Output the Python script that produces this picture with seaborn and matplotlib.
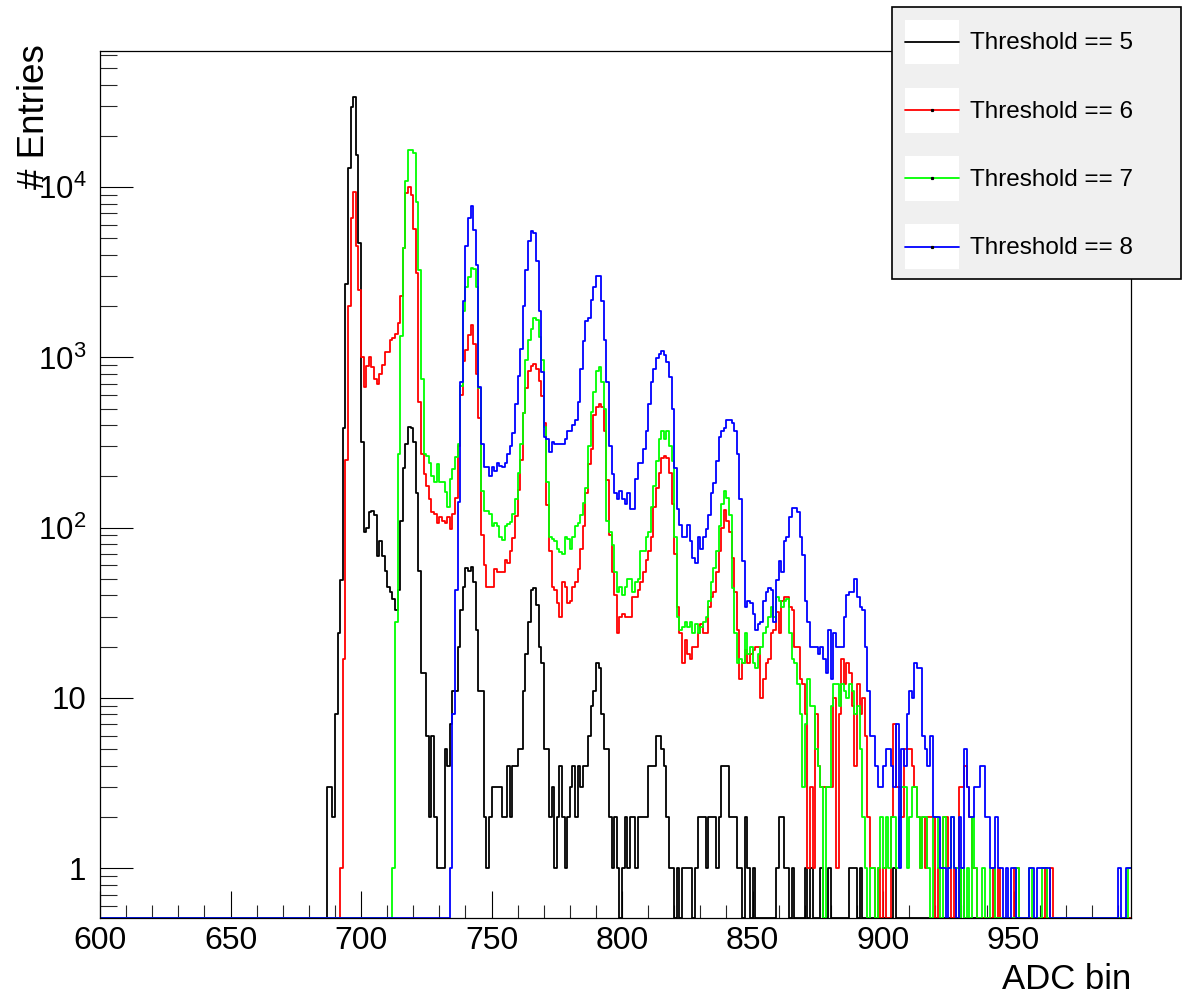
import numpy as np
import pandas as pd
import matplotlib
matplotlib.use("Agg")
import matplotlib.pyplot as plt
import seaborn as sns
from matplotlib.patches import Rectangle
from matplotlib.lines import Line2D
from matplotlib.legend_handler import HandlerBase
from matplotlib.ticker import (FixedLocator, FixedFormatter, LogLocator,
                               MultipleLocator, NullFormatter)

# ---------------- data ----------------
labels = ["Threshold == 5", "Threshold == 6", "Threshold == 7", "Threshold == 8"]
colors = ["#000000", "#ff0000", "#00ff00", "#0000ff"]

x_min, x_max = 600, 995
y_min, y_max = 0.51, 6.3e4

y_tick_values = [1, 10, 100, 1000, 10000]
y_tick_labels = ["1", "10", r"$\mathregular{10^{2}}$", r"$\mathregular{10^{3}}$",
                 r"$\mathregular{10^{4}}$"]

# counts per 1-ADC bin, starting at the given first bin
t5_first_bin = 687
t5_counts = [
    3, 3, 2, 8, 24, 49, 385, 2700, 13000, 29500,          # 687
    34000, 15500, 4700, 320, 94, 100, 123, 125, 118, 68,  # 697
    84, 68, 56, 45, 42, 38, 33, 43, 110, 225,             # 707
    310, 390, 385, 320, 160, 56, 14, 14, 6, 2,            # 717
    6, 2, 1, 1, 1, 5, 4, 7, 11, 11,                       # 727
    20, 33, 45, 58, 56, 59, 48, 25, 11, 11,               # 737
    2, 1, 2, 3, 3, 3, 3, 2, 2, 4,                         # 747
    2, 4, 4, 5, 5, 11, 18, 28, 43, 44,                    # 757
    35, 20, 16, 5, 5, 2, 3, 1, 2, 4,                      # 767
    2, 1, 2, 3, 4, 2, 4, 3, 4, 4,                         # 777
    6, 9, 11, 16, 15, 8, 5, 5, 2, 1,                      # 787
    2, 1, 0, 1, 2, 1, 2, 2, 1, 2,                         # 797
    2, 2, 2, 4, 4, 4, 6, 6, 5, 4,                         # 807
    2, 1, 1, 0, 1, 0, 1, 1, 1, 1,                         # 817
    0, 1, 2, 2, 2, 1, 2, 2, 2, 1,                         # 827
    2, 4, 4, 4, 2, 2, 2, 1, 1, 0,                         # 837
    2, 1, 0, 1, 0, 0, 0, 0, 0, 0,                         # 847
    0, 0, 1, 2, 2, 1, 1, 0, 1, 0,                         # 857
    0, 0, 0, 1, 0, 1, 0, 0, 0, 1,                         # 867
    0, 0, 1, 0, 0, 0, 0, 0, 0, 0,                         # 877
    1, 1, 1, 0, 1, 0, 0, 0, 0, 0,                         # 887
    0, 0, 0, 0, 0, 0, 0, 1, 0, 0,                         # 897
    0, 0, 0, 0, 0, 0, 0, 0, 0, 0,                         # 907
    0, 0, 0, 0, 0, 0, 0, 0, 0, 0,                         # 917
    0, 0, 0, 1,                                           # 927
]

t6_first_bin = 692
t6_counts = [
    1, 17, 250, 2000, 6600, 9400, 4500, 2500, 1000, 670,          # 692
    890, 1000, 880, 750, 700, 800, 900, 1080, 1080, 1260,         # 702
    1300, 1380, 1590, 2300, 4400, 9200, 10000, 9000, 5700, 3150,  # 712
    545, 270, 207, 176, 147, 123, 120, 107, 116, 110,             # 722
    107, 116, 98, 120, 150, 300, 600, 950, 1100, 1350,            # 732
    1540, 1200, 800, 440, 90, 60, 45, 45, 45, 57,                 # 742
    55, 55, 55, 65, 62, 73, 87, 117, 167, 250,                    # 752
    470, 660, 830, 890, 920, 860, 730, 590, 410, 136,             # 762
    73, 45, 43, 36, 30, 48, 45, 36, 37, 45,                       # 772
    48, 57, 75, 102, 160, 235, 290, 460, 510, 530,                # 782
    510, 370, 190, 90, 55, 40, 24, 30, 31, 30,                    # 792
    30, 30, 39, 39, 43, 48, 55, 65, 73, 88,                       # 802
    133, 170, 210, 257, 265, 257, 210, 137, 70, 34,               # 812
    24, 16, 22, 18, 17, 20, 20, 24, 27, 24,                       # 822
    24, 34, 39, 42, 55, 73, 100, 127, 110, 94,                    # 832
    66, 42, 25, 13, 16, 19, 16, 18, 19, 20,                       # 842
    20, 10, 13, 16, 17, 24, 25, 32, 24, 37,                       # 852
    39, 39, 34, 33, 20, 20, 13, 12, 8, 1,                         # 862
    3, 1, 8, 4, 3, 3, 3, 3, 3, 10,                                # 872
    1, 8, 17, 12, 16, 14, 9, 4, 12, 8,                            # 882
    10, 6, 2, 1, 1, 0, 1, 0, 1, 0,                                # 892
    0, 2, 7, 3, 3, 2, 5, 5, 5, 4,                                 # 902
    3, 2, 1, 2, 1, 2, 2, 2, 0, 1,                                 # 912
    1, 2, 2, 1, 0, 1, 0, 3, 3, 4,                                 # 922
    3, 2, 1, 1, 0, 0, 0, 0, 0, 0,                                 # 932
    1, 0, 1, 0, 0, 0, 0, 0, 1, 1,                                 # 942
    0, 0, 0, 0, 0, 0, 0, 0, 0, 0,                                 # 952
    1, 0, 1,                                                      # 962
]

t7_first_bin = 712
t7_counts = [
    1, 28, 270, 1340, 4400, 10800, 16500, 16500, 15900, 8200,     # 712
    3240, 750, 270, 265, 240, 200, 185, 235, 185, 185,            # 722
    162, 132, 193, 220, 260, 310, 680, 1880, 2600, 2950,          # 732
    3370, 3300, 2600, 660, 165, 125, 125, 120, 102, 106,          # 742
    102, 88, 85, 102, 105, 108, 120, 147, 210, 312,               # 752
    470, 965, 1260, 1460, 1700, 1650, 1320, 965, 390, 185,        # 762
    88, 86, 83, 75, 72, 70, 88, 86, 75, 88,                       # 772
    102, 106, 118, 140, 170, 300, 480, 630, 830, 880,             # 782
    715, 500, 110, 94, 79, 55, 42, 45, 40, 45,                    # 792
    50, 50, 42, 48, 50, 73, 73, 88, 94, 133,                      # 802
    176, 246, 330, 370, 330, 370, 300, 246, 88, 30,               # 812
    25, 26, 28, 26, 28, 24, 27, 24, 26, 28,                       # 822
    30, 37, 48, 58, 73, 102, 137, 165, 150, 118,                  # 832
    44, 24, 16, 17, 16, 24, 18, 20, 16, 15,                       # 842
    18, 20, 24, 26, 30, 34, 30, 39, 37, 34,                       # 852
    37, 38, 24, 17, 16, 12, 8, 3, 7, 13,                          # 862
    9, 9, 5, 4, 3, 0, 3, 3, 9, 12,                                # 872
    12, 9, 12, 11, 10, 12, 11, 8, 9, 5,                           # 882
    2, 1, 0, 1, 1, 0, 1, 2, 1, 2,                                 # 892
    1, 2, 2, 1, 2, 3, 3, 1, 2, 3,                                 # 902
    3, 2, 1, 2, 2, 1, 0, 2, 2, 1,                                 # 912
    0, 2, 1, 1, 2, 1, 1, 0, 1, 0,                                 # 922
    1, 0, 2, 1, 0, 0, 1, 0, 0, 1,                                 # 932
    1, 0, 0, 0, 0, 0, 0, 0, 0, 1,                                 # 942
    0, 0, 0, 0, 1, 0, 0, 0, 0, 1,                                 # 952
    1, 0, 0, 0, 0, 0, 0, 0, 0, 0,                                 # 962
    0, 0, 0, 0, 0, 0, 0, 0, 0, 0,                                 # 972
    0, 0, 0, 0, 0, 0, 0, 0, 0, 0,                                 # 982
    0, 0, 1,                                                      # 992
]

t8_first_bin = 734
t8_counts = [
    1, 8, 43, 141, 720, 2130, 4500, 6600, 7700, 5600,             # 734
    3500, 670, 310, 226, 226, 200, 226, 215, 240, 230,            # 744
    226, 240, 270, 300, 360, 534, 780, 1120, 2000, 3240,          # 754
    4800, 5500, 5400, 3660, 1870, 820, 340, 330, 280, 317,        # 764
    310, 310, 310, 310, 330, 370, 370, 400, 430, 550,             # 774
    850, 1250, 1640, 1700, 2180, 2590, 2990, 2990, 2130, 1260,    # 784
    715, 302, 207, 159, 148, 165, 148, 137, 159, 128,             # 794
    128, 192, 240, 240, 290, 370, 530, 715, 850, 990,             # 804
    1050, 1090, 1030, 940, 770, 500, 225, 128, 103, 88,           # 814
    88, 103, 83, 66, 62, 88, 75, 88, 98, 118,                     # 824
    159, 183, 246, 340, 370, 385, 430, 430, 410, 370,             # 834
    270, 148, 64, 34, 37, 36, 31, 25, 27, 28,                     # 844
    37, 42, 44, 43, 28, 49, 64, 55, 84, 88,                       # 854
    116, 130, 130, 123, 88, 69, 37, 28, 20, 20,                   # 864
    20, 18, 20, 17, 14, 25, 13, 24, 20, 20,                       # 874
    20, 30, 40, 42, 42, 50, 39, 34, 33, 20,                       # 884
    11, 6, 6, 4, 3, 3, 4, 5, 5, 4,                                # 894
    3, 7, 1, 5, 4, 8, 11, 10, 16, 15,                             # 904
    15, 6, 5, 4, 6, 2, 2, 2, 1, 1,                                # 914
    0, 1, 2, 1, 0, 2, 1, 5, 3, 2,                                 # 924
    2, 3, 3, 4, 4, 2, 2, 1, 1, 2,                                 # 934
    1, 1, 0, 1, 0, 1, 1, 0, 0, 0,                                 # 944
    0, 0, 1, 1, 0, 1, 1, 1, 1, 1,                                 # 954
    0, 0, 0, 0, 0, 0, 0, 0, 0, 0,                                 # 964
    0, 0, 0, 0, 0, 0, 0, 0, 0, 0,                                 # 974
    0, 0, 0, 0, 0, 0, 1, 0, 0, 1,                                 # 984
    1,                                                            # 994
]

series = [
    (labels[0], t5_first_bin, t5_counts),
    (labels[1], t6_first_bin, t6_counts),
    (labels[2], t7_first_bin, t7_counts),
    (labels[3], t8_first_bin, t8_counts),
]

# ---------------- long table for seaborn ----------------
edges = np.arange(x_min, x_max + 1)
frames = []
for name, first, counts in series:
    full = np.zeros(x_max - x_min)
    i0 = first - x_min
    n = min(len(counts), len(full) - i0)
    full[i0:i0 + n] = counts[:n]
    y = np.append(full, full[-1])
    # empty bins are drawn along the lower frame edge, like ROOT does
    frames.append(pd.DataFrame({"adc": edges,
                                "entries": np.clip(y, y_min, None),
                                "threshold": name}))
df = pd.concat(frames, ignore_index=True)

# ---------------- figure ----------------
sns.set_theme(style="white")
plt.rcParams["font.family"] = ["Liberation Sans", "DejaVu Sans"]
plt.rcParams["mathtext.fontset"] = "custom"
plt.rcParams["mathtext.rm"] = "Liberation Sans"
plt.rcParams["mathtext.it"] = "Liberation Sans:italic"
plt.rcParams["mathtext.bf"] = "Liberation Sans:bold"
plt.rcParams["text.color"] = "black"
plt.rcParams["axes.labelcolor"] = "black"

W, H = 1182, 997
fig = plt.figure(figsize=(W / 100, H / 100), dpi=100)
fig.patch.set_facecolor("white")
ax = fig.add_axes([100 / W, (H - 918) / H, 1031 / W, 867 / H])

sns.lineplot(data=df, x="adc", y="entries", hue="threshold",
             hue_order=labels, palette=colors, drawstyle="steps-post",
             estimator=None, sort=False, linewidth=1.3, legend=False, ax=ax)

ax.set_yscale("log")
ax.set_xlim(x_min, x_max)
ax.set_ylim(y_min, y_max)

ax.xaxis.set_major_locator(MultipleLocator(50))
ax.xaxis.set_minor_locator(MultipleLocator(10))
ax.yaxis.set_major_locator(FixedLocator(y_tick_values))
ax.yaxis.set_major_formatter(FixedFormatter(y_tick_labels))
ax.yaxis.set_minor_locator(LogLocator(base=10, subs=np.arange(2, 10), numticks=30))
ax.yaxis.set_minor_formatter(NullFormatter())

ax.tick_params(axis="x", which="major", direction="in", length=19.5, width=0.8,
               labelsize=23, pad=6, top=False, bottom=True, colors="black")
ax.tick_params(axis="x", which="minor", direction="in", length=9.5, width=0.8,
               top=False, bottom=True)
ax.tick_params(axis="y", which="major", direction="in", length=24, width=0.8,
               labelsize=22.5, pad=10, right=False, left=True, colors="black")
ax.tick_params(axis="y", which="minor", direction="in", length=12, width=0.8,
               right=False, left=True)

for s in ax.spines.values():
    s.set_color("black")
    s.set_linewidth(0.9)

ax.set_xlabel("ADC bin", loc="right", fontsize=25, color="black")
ax.xaxis.set_label_coords(1.0, -0.052)
ax.set_ylabel("# Entries", loc="top", fontsize=26.5, color="black")
ax.yaxis.set_label_coords(-0.047, 1.008)


# ---------------- legend (ROOT TLegend look) ----------------
class BoxLineHandler(HandlerBase):
    def __init__(self, color, dot):
        super().__init__()
        self.color = color
        self.dot = dot

    def create_artists(self, legend, orig_handle, xdescent, ydescent,
                       width, height, fontsize, trans):
        rect = Rectangle((-xdescent, -ydescent), width, height,
                         facecolor="white", edgecolor="none", transform=trans)
        yc = -ydescent + height / 2
        line = Line2D([-xdescent, -xdescent + width], [yc, yc],
                      color=self.color, lw=1.3, transform=trans)
        arts = [rect, line]
        if self.dot:
            arts.append(Line2D([-xdescent + width / 2], [yc], marker="s",
                               markersize=1.3, color="black", linestyle="none",
                               transform=trans))
        return arts


fig.add_artist(Rectangle((892 / W, 1 - 279 / H), (1181 - 892) / W, (279 - 7) / H,
                         transform=fig.transFigure, facecolor="#f0f0f0",
                         edgecolor="black", linewidth=1.2, zorder=3))

handles = [Line2D([], [], color=c) for c in colors]
handler_map = {h: BoxLineHandler(c, i > 0) for i, (h, c) in enumerate(zip(handles, colors))}
fig.legend(handles, labels, handler_map=handler_map, loc="upper left",
           bbox_to_anchor=(892 / W, 1 - 7 / H), bbox_transform=fig.transFigure,
           frameon=False, fontsize=17.5, handlelength=2.25, handleheight=2.45,
           labelspacing=0.97, handletextpad=0.45, borderpad=0.52,
           borderaxespad=0, labelcolor="black")

fig.savefig("out.png", dpi=100, facecolor="white")
